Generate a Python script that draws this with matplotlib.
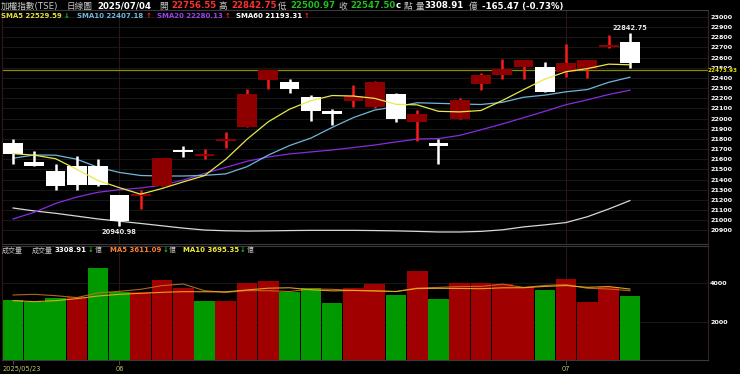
import numpy as np
import matplotlib
matplotlib.use("Agg")
import matplotlib.pyplot as plt

plt.rcParams['font.family'] = ['DejaVu Sans', 'Noto Sans CJK TC']

# ---------- data ----------
dates = ["2025/05/23", "2025/05/26", "2025/05/27", "2025/05/28", "2025/05/29",
         "2025/06/02", "2025/06/03", "2025/06/04", "2025/06/05", "2025/06/06",
         "2025/06/09", "2025/06/10", "2025/06/11", "2025/06/12", "2025/06/13",
         "2025/06/16", "2025/06/17", "2025/06/18", "2025/06/19", "2025/06/20",
         "2025/06/23", "2025/06/24", "2025/06/25", "2025/06/26", "2025/06/27",
         "2025/06/30", "2025/07/01", "2025/07/02", "2025/07/03", "2025/07/04"]

open_ = [21762, 21573, 21484, 21534, 21530, 21249, 21240, 21335, 21682, 21633,
         21782, 21921, 22378, 22364, 22215, 22057, 22172, 22113, 22239, 21964,
         21745, 22000, 22344, 22431, 22510, 22510, 22460, 22484, 22700, 22756.55]
high = [21798, 21679, 21550, 21630, 21603, 21249, 21299, 21616, 21732, 21699,
        21865, 22295, 22477, 22391, 22229, 22093, 22331, 22371, 22255, 22086,
        21795, 22199, 22444, 22586, 22579, 22556, 22735, 22579, 22818, 22842.75]
low = [21557, 21537, 21302, 21302, 21340, 20940.98, 21110, 21335, 21623, 21606,
       21712, 21921, 22295, 22252, 21980, 21934, 22119, 22103, 21970, 21782,
       21550, 22000, 22285, 22391, 22391, 22258, 22411, 22397, 22690, 22500.97]
close = [21649, 21537, 21335, 21351, 21345, 20994, 21255, 21616, 21673, 21656,
         21795, 22245, 22477, 22292, 22073, 22050, 22219, 22361, 22000, 22047,
         21735, 22186, 22431, 22493, 22579, 22258, 22550, 22579, 22712.97, 22547.50]

sma5 = [21655, 21640, 21605, 21500, 21390, 21320, 21256, 21312, 21377, 21439,
        21599, 21797, 21969, 22093, 22176, 22227, 22222, 22199, 22141, 22135,
        22072, 22066, 22080, 22178, 22285, 22389, 22462, 22492, 22536, 22529.59]
sma10 = [21610, 21642, 21640, 21600, 21520, 21470, 21440, 21435, 21435, 21441,
         21456, 21527, 21641, 21735, 21808, 21913, 22010, 22084, 22117, 22156,
         22150, 22144, 22139, 22160, 22210, 22231, 22264, 22286, 22357, 22407.18]
sma20 = [21012, 21078, 21165, 21228, 21275, 21300, 21317, 21345, 21395, 21460,
         21520, 21580, 21622, 21652, 21672, 21691, 21715, 21740, 21770, 21799,
         21803, 21835, 21890, 21947, 22009, 22072, 22137, 22185, 22237, 22280.13]
sma60 = [21120, 21091, 21068, 21040, 21012, 20990, 20968, 20945, 20922, 20903,
         20896, 20893, 20895, 20898, 20900, 20900, 20900, 20898, 20895, 20890,
         20884, 20884, 20890, 20905, 20934, 20954, 20977, 21034, 21110, 21193.31]

volume = [3125, 3038, 3212, 3299, 4809, 3524, 3559, 4167, 3733, 3073,
          3073, 4028, 4132, 3524, 3733, 2986, 3767, 3958, 3385, 4635,
          3160, 3993, 3993, 3976, 3785, 3663, 4219, 3038, 3785, 3308.91]
# volume up/down vs previous close (red = up, green = down)
vol_up = [0, 0, 0, 1, 0, 0, 1, 1, 1, 0, 1, 1, 1, 0, 0, 0, 1, 1, 0, 1,
          0, 1, 1, 1, 1, 0, 1, 1, 1, 0]
vol_ma5 = [3385, 3420, 3350, 3250, 3497, 3576, 3681, 3872, 3958, 3611,
           3521, 3615, 3608, 3566, 3698, 3681, 3628, 3594, 3566, 3746,
           3781, 3826, 3833, 3951, 3781, 3882, 3927, 3736, 3698, 3611.09]
vol_ma10 = [3090, 3038, 3090, 3194, 3333, 3420, 3472, 3524, 3559, 3554,
            3549, 3648, 3740, 3762, 3655, 3601, 3622, 3601, 3566, 3722,
            3731, 3727, 3713, 3759, 3764, 3832, 3877, 3785, 3825, 3695.35]

price_ticks = list(range(20900, 23001, 100))
vol_ticks = [2000, 4000]
ref_price = 22473.93

# ---------- figure ----------
W, H = 740, 374
fig = plt.figure(figsize=(W / 100, H / 100), dpi=100, facecolor='black')
renderer = fig.canvas.get_renderer()


def px_axes(x0, y0, x1, y1):
    return fig.add_axes([x0 / W, 1 - y1 / H, (x1 - x0) / W, (y1 - y0) / H])


def ftext(x, y, s, color, size=6.2, weight='bold', **kw):
    return fig.text(x / W, 1 - y / H, s, color=color, fontsize=size,
                    fontweight=weight, va='center', ha='left', **kw)


def right_edge(t):
    # right end of a text, in pixels from the left
    return t.get_window_extent(renderer).x1


ax = px_axes(2, 10, 708, 244)
axv = px_axes(2, 246, 708, 360)

x = np.arange(len(dates))
o = np.array(open_)
c = np.array(close)
h = np.array(high)
l = np.array(low)
up = c >= o

for a in (ax, axv):
    a.set_facecolor('black')
    a.set_xlim(-0.52, 32.67)
    a.tick_params(axis='x', length=0, labelbottom=False)
    a.yaxis.tick_right()
    a.tick_params(axis='y', length=0, pad=1.5, labelcolor='white', labelsize=4.6)
    for s in a.spines.values():
        s.set_color('#3a3a3a')
        s.set_linewidth(0.8)
    a.spines['left'].set_color('#3a1515')
    a.spines['right'].set_color('#3a2020')

# month boundaries
month_idx = [i for i in range(1, len(dates)) if dates[i][5:7] != dates[i - 1][5:7]]

# ---- price panel ----
ax.set_ylim(20765.7, 23068.9)
ax.set_yticks(price_ticks)
ax.set_yticklabels([str(t) for t in price_ticks], fontweight='bold')
for t in price_ticks:
    ax.axhline(t, color='#1c1c1c', lw=0.6, zorder=0)
for i in month_idx:
    ax.axvline(x[i], color='#2a1616', lw=0.8, zorder=0)

ax.axhline(ref_price, color='#8c8c00', lw=0.9, zorder=1)
ax.text(1.0, ref_price, f'{ref_price:.2f}', transform=ax.get_yaxis_transform(),
        color='#e6e600', fontsize=4.1, fontweight='bold', va='center', ha='left',
        clip_on=False, bbox=dict(facecolor='black', edgecolor='none', pad=0.1), zorder=5)

ax.plot(x, sma60, color='#d8d8d8', lw=0.9, zorder=2)
ax.plot(x, sma20, color='#8a2be2', lw=0.9, zorder=2)
ax.plot(x, sma10, color='#6fb7d9', lw=0.9, zorder=2)
ax.plot(x, sma5, color='#e8e84a', lw=0.9, zorder=4)

wick_col = np.where(up, '#ff1a1a', '#ffffff')
body_col = np.where(up, '#8e0000', '#ffffff')
ax.vlines(x, l, h, colors=wick_col, lw=1.8, zorder=3)
body_h = np.maximum(np.abs(c - o), 22)
ax.bar(x, body_h, bottom=np.minimum(o, c), width=0.93, color=body_col,
       edgecolor='none', zorder=3)

ih = int(np.argmax(h))
il = int(np.argmin(l))
ax.text(x[ih], h[ih] + 20, f'{h[ih]:.2f}', color='#e8e8e8', fontsize=4.8,
        fontweight='bold', ha='center', va='bottom', zorder=6)
ax.text(x[il], l[il] - 25, f'{l[il]:.2f}', color='#e8e8e8', fontsize=4.8,
        fontweight='bold', ha='center', va='top', zorder=6)

# ---- volume panel ----
axv.set_ylim(0, 5937)
axv.set_yticks(vol_ticks)
axv.set_yticklabels([str(t) for t in vol_ticks], fontweight='bold')
for t in vol_ticks:
    axv.axhline(t, color='#1c1c1c', lw=0.6, zorder=0)
for i in month_idx:
    axv.axvline(x[i], color='#2a1616', lw=0.8, zorder=0)
vcol = ['#a00000' if u else '#009a00' for u in vol_up]
axv.bar(x, volume, width=0.97, color=vcol, edgecolor='none', zorder=2)
axv.plot(x, vol_ma5, color='#c8701e', lw=0.8, alpha=0.9, zorder=3)
axv.plot(x, vol_ma10, color='#f0b020', lw=0.8, alpha=0.9, zorder=3)

# x labels
tick_idx = [0] + month_idx
for i in tick_idx:
    axv.plot([x[i], x[i]], [0, -200], color='#555555', lw=0.6, clip_on=False)
    lab = dates[i] if i == 0 else dates[i][5:7]
    ha = 'left' if i == 0 else 'center'
    xx = -0.48 if i == 0 else x[i]
    axv.text(xx, -330, lab, color='#c8c864', fontsize=4.8, ha=ha, va='top',
             clip_on=False)

# ---------- header ----------
gray = '#c8c8c8'
y1 = 6
ftext(1, y1, '加權指數(TSE)', gray, weight='normal')
ftext(67, y1, '日線圖', gray, weight='normal')
ftext(97, y1, dates[-1], 'white')
ftext(159, y1, '開', gray, weight='normal')
ftext(171, y1, f'{open_[-1]:.2f}', '#ff3030')
ftext(219, y1, '高', gray, weight='normal')
ftext(231, y1, f'{high[-1]:.2f}', '#ff3030')
ftext(278, y1, '低', gray, weight='normal')
ftext(290, y1, f'{low[-1]:.2f}', '#20c020')
ftext(338, y1, '收', gray, weight='normal')
ftext(350, y1, f'{close[-1]:.2f}', '#20c020')
ftext(396, y1, 'c', 'white')
ftext(404, y1, '點', gray, weight='normal')
ftext(416, y1, '量', gray, weight='normal')
ftext(424, y1, f'{volume[-1]:.2f}', 'white')
ftext(469, y1, '億', gray, weight='normal')
chg = close[-1] - close[-2]
ftext(482, y1, f'{chg:.2f} ({chg / close[-2] * 100:.2f}%)', 'white')

# SMA legend
y2 = 15.5
leg = [(1, 'SMA5', sma5, '#e0e040'), (77, 'SMA10', sma10, '#70b8e0'),
       (157, 'SMA20', sma20, '#a040f0'), (236, 'SMA60', sma60, '#ffffff')]
for xx, name, s, col in leg:
    t = ftext(xx, y2, f'{name} {s[-1]:.2f}', col, size=5.0)
    rising = s[-1] >= s[-2]
    ftext(right_edge(t) + 2, y2, '↑' if rising else '↓',
          '#ff2020' if rising else '#20c020', size=5.0)

# volume legend
y3 = 250
ftext(2, y3, '成交量', gray, size=5.0, weight='normal')
ftext(32, y3, '成交量', gray, size=5.0, weight='normal')
vol_leg = [(55, f'{volume[-1]:.2f}', 'white'),
           (110, f'MA5 {vol_ma5[-1]:.2f}', '#ff8030'),
           (183, f'MA10 {vol_ma10[-1]:.2f}', '#f0f030')]
for xx, s, col in vol_leg:
    t = ftext(xx, y3, s, col, size=5.0)
    a = ftext(right_edge(t) + 1, y3, '↓', '#20c020', size=5.0)
    ftext(right_edge(a) + 1, y3, '億', gray, size=5.0, weight='normal')

fig.savefig('out.png', dpi=100, facecolor='black')
